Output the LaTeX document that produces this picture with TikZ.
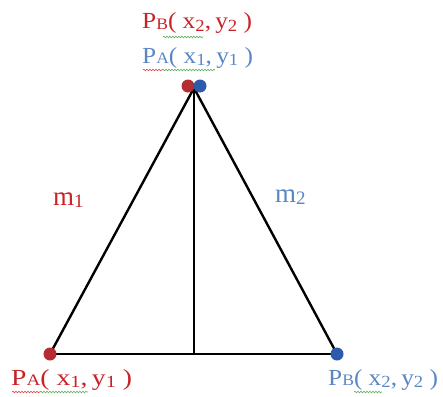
\documentclass[tikz,border=0pt]{standalone}
\usepackage{fontspec}
\setmainfont{Liberation Serif}
\usetikzlibrary{decorations.pathmorphing}
\definecolor{labred}{RGB}{200,35,40}
\definecolor{labblue}{RGB}{90,135,195}
\definecolor{dotred}{RGB}{180,45,50}
\definecolor{dotblue}{RGB}{45,90,170}
\definecolor{wavered}{RGB}{220,70,70}
\definecolor{wavegreen}{RGB}{90,175,90}
\newcommand{\ptlabel}[4][1.1]{\scalebox{#1}[1]{P\raisebox{-0.5pt}{\fontsize{16}{16}\selectfont #2}(\ x\raisebox{-2pt}{\fontsize{17}{17}\selectfont #3},\,y\raisebox{-2pt}{\fontsize{17}{17}\selectfont #4}\ )}}
\pgfdeclarelayer{bg}
\pgfsetlayers{bg,main}
\tikzset{
  edge/.style={line width=2.4pt, black},
  dotR/.style={circle, fill=dotred, minimum size=13pt, inner sep=0pt},
  dotB/.style={circle, fill=dotblue, minimum size=13pt, inner sep=0pt},
  lab/.style={font=\fontsize{23}{23}\selectfont, inner sep=0pt, anchor=base west},
  mlab/.style={font=\fontsize{27}{27}\selectfont, inner sep=0pt, anchor=base west},
  wavy/.style={decorate, decoration={snake, amplitude=0.8pt, segment length=3pt}, line width=0.6pt}
}
\begin{document}
\begin{tikzpicture}[x=1pt,y=-1pt]
\useasboundingbox (0,0) rectangle (443,396);
\coordinate (apex) at (194,88);
\coordinate (foot) at (194,354);
\node[dotR] (A1) at (50,354) {};
\node[dotB] (B1) at (337,354) {};
\node[dotR] (Btop) at (188,86) {};
\node[dotB] (Atop) at (200,86) {};
\begin{pgfonlayer}{bg}
\draw[edge] (A1.center) -- (B1.center);
\draw[edge] (A1.center) -- (apex) -- (B1.center);
\draw[edge, line width=2pt] (apex) -- (foot);
\end{pgfonlayer}
\node[lab, text=labred] (lBtop) at (142,29) {\ptlabel{B}{2}{2}};
\node[lab, text=labblue] (lAtop) at (142,63) {\ptlabel{A}{1}{1}};
\node[lab, text=labred] (lA) at (11,385) {\ptlabel[1.2]{A}{1}{1}};
\node[lab, text=labblue] (lB) at (328,385) {\ptlabel{B}{2}{2}};
\node[mlab, text=labred] (m1) at (53,205) {m\raisebox{-2pt}{\fontsize{19}{19}\selectfont 1}};
\node[mlab, text=labblue] (m2) at (275,202) {m\raisebox{-2pt}{\fontsize{19}{19}\selectfont 2}};
\draw[wavy, wavegreen] (163,37) -- (203,37);
\draw[wavy, wavered] (143,70) -- (162,70);
\draw[wavy, wavegreen] (162,70) -- (215,70);
\draw[wavy, wavered] (12,392) -- (40,392);
\draw[wavy, wavegreen] (40,392) -- (88,392);
\draw[wavy, wavegreen] (354,392) -- (382,392);
\end{tikzpicture}
\end{document}
